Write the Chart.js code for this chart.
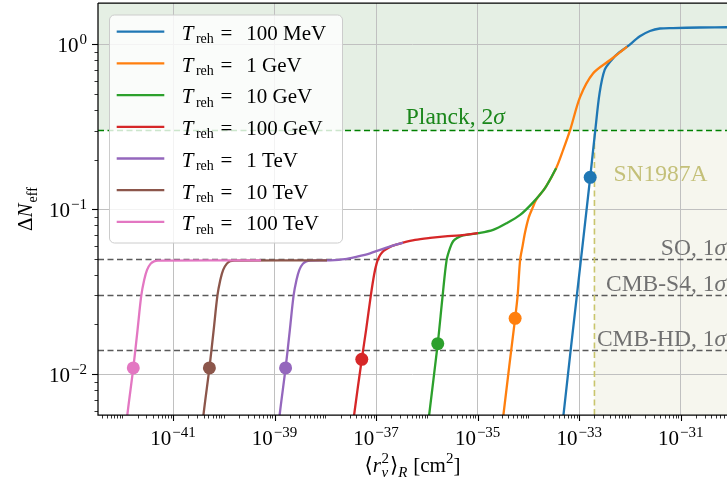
<!DOCTYPE html>
<html>
<head>
<meta charset="utf-8">
<script src="https://cdn.jsdelivr.net/npm/chart.js@4"></script>
<style>
  html, body { margin: 0; padding: 0; background: #fff; }
  canvas { display: block; }
</style>
</head>
<body>
<canvas id="neffChart" width="727" height="488"></canvas>
<script>
"use strict";

/* ── Datos ─────────────────────────────────────────────── */
const legendLabels = ["100 MeV", "1 GeV", "10 GeV", "100 GeV", "1 TeV", "10 TeV", "100 TeV"];
const seriesColors = ["#1f77b4", "#ff7f0e", "#2ca02c", "#d62728", "#9467bd", "#8c564b", "#e377c2"];

const x100MeV = [4.68e-34, 4.91e-34, 9.01e-34, 1.65e-33, 2.07e-33, 2.53e-33, 3.18e-33, 4.41e-33, 6.14e-33, 8.83e-33, 1.57e-32, 2.48e-32, 3.90e-32, 7.03e-32, 2.39e-31, 9.33e-31];
const y100MeV = [0.0045, 0.00565, 0.0299, 0.156, 0.298, 0.507, 0.699, 0.807, 0.892, 0.967, 1.118, 1.204, 1.247, 1.255, 1.264, 1.269];

const x1GeV = [3.05e-35, 3.22e-35, 5.48e-35, 6.14e-35, 6.87e-35, 7.70e-35, 8.55e-35, 1.01e-34, 1.21e-34, 1.42e-34, 2.14e-34, 3.52e-34, 4.84e-34, 6.65e-34, 1.05e-33, 1.89e-33, 4.08e-33, 8.83e-33];
const y1GeV = [0.0045, 0.00565, 0.0218, 0.0299, 0.0491, 0.0599, 0.0718, 0.0886, 0.1018, 0.1140, 0.1346, 0.1772, 0.2288, 0.3024, 0.4815, 0.6673, 0.8029, 0.9671];

const x10GeV = [1.04e-36, 1.11e-36, 1.64e-36, 2.04e-36, 2.45e-36, 2.87e-36, 3.29e-36, 3.94e-36, 5.18e-36, 1.02e-35, 2.02e-35, 3.76e-35, 6.87e-35, 1.24e-34, 2.14e-34, 3.52e-34];
const y10GeV = [0.0045, 0.00565, 0.0153, 0.0296, 0.0491, 0.0582, 0.0639, 0.0670, 0.0694, 0.0715, 0.0749, 0.0823, 0.0923, 0.1100, 0.1346, 0.1772];

const x100GeV = [3.44e-38, 3.69e-38, 5.23e-38, 6.35e-38, 7.87e-38, 9.14e-38, 1.02e-37, 1.15e-37, 1.31e-37, 1.57e-37, 2.07e-37, 3.40e-37, 5.86e-37, 1.16e-36, 2.29e-36, 4.52e-36, 1.02e-35];
const y100GeV = [0.0045, 0.00565, 0.0123, 0.0185, 0.0299, 0.0400, 0.0466, 0.0514, 0.0547, 0.0571, 0.0599, 0.0627, 0.0652, 0.0670, 0.0684, 0.0694, 0.0715];

const x1TeV = [1.19e-39, 1.26e-39, 1.65e-39, 2.00e-39, 2.37e-39, 2.71e-39, 3.08e-39, 3.60e-39, 4.22e-39, 5.06e-39, 1.24e-38, 2.45e-38, 4.23e-38, 7.62e-38, 1.20e-37, 2.07e-37, 3.40e-37];
const y1TeV = [0.0045, 0.00565, 0.01086, 0.0185, 0.0299, 0.0373, 0.0429, 0.0466, 0.0483, 0.0488, 0.0490, 0.0498, 0.0516, 0.0540, 0.0567, 0.0599, 0.0627];

const x10TeV = [3.76e-41, 3.98e-41, 5.21e-41, 6.32e-41, 7.49e-41, 8.56e-41, 9.73e-41, 1.14e-40, 1.33e-40, 1.60e-40, 1.08e-38];
const y10TeV = [0.0045, 0.00565, 0.01086, 0.0185, 0.0299, 0.0373, 0.0429, 0.0466, 0.0483, 0.0488, 0.0490];

const x100TeV = [1.19e-42, 1.26e-42, 1.65e-42, 2.00e-42, 2.37e-42, 2.71e-42, 3.08e-42, 3.60e-42, 4.22e-42, 5.06e-42, 5.42e-40];
const y100TeV = [0.0045, 0.00565, 0.01086, 0.0185, 0.0299, 0.0373, 0.0429, 0.0466, 0.0483, 0.0488, 0.0489];

// puntos marcados sobre cada curva
const dotX = [1.65e-33, 5.48e-35, 1.64e-36, 5.23e-38, 1.65e-39, 5.21e-41, 1.65e-42];
const dotY = [0.156, 0.0218, 0.0153, 0.0123, 0.0109, 0.0109, 0.0109];

// cotas experimentales
const planckLimit = 0.3;
const forecastLevels = [0.05, 0.03, 0.014];
const forecastLabels = ["SO, 1", "CMB-S4, 1", "CMB-HD, 1"];
const sn1987aLimit = 2.0e-33;

// ejes
const xTickValues = [1e-41, 1e-39, 1e-37, 1e-35, 1e-33, 1e-31];
const yTickValues = [1e-2, 1e-1, 1];
const xMin = 3.33e-43, xMax = 8.17e-31;
const yMin = 0.00565, yMax = 1.78;

const curvesX = [x100MeV, x1GeV, x10GeV, x100GeV, x1TeV, x10TeV, x100TeV];
const curvesY = [y100MeV, y1GeV, y10GeV, y100GeV, y1TeV, y10TeV, y100TeV];

/* ── Helpers de texto ──────────────────────────────────── */
const SERIF = '"Liberation Serif", "DejaVu Serif", serif';
const f = (size, italic) => `${italic ? "italic " : ""}${size}px ${SERIF}`;

// trozos: [texto, tamaño, cursiva, desplazamiento vertical, espacio extra]
function pieceWidth(ctx, pieces) {
  let w = 0;
  pieces.forEach((p) => {
    ctx.font = f(p[1], p[2]);
    w += ctx.measureText(p[0]).width + (p[4] || 0);
  });
  return w;
}
function drawPieces(ctx, pieces, x, y) {
  let cx = x;
  pieces.forEach((p) => {
    ctx.font = f(p[1], p[2]);
    ctx.fillText(p[0], cx, y + (p[3] || 0));
    cx += ctx.measureText(p[0]).width + (p[4] || 0);
  });
  return cx;
}
function powPieces(exp) {
  const sup = exp < 0 ? "\u2212" + -exp : String(exp);
  return [["10", 21, false, 0, 1], [sup, 15, false, -8]];
}

/* ── Plugin de decoración ──────────────────────────────── */
const decor = {
  id: "decor",
  beforeDraw(chart) {
    const { ctx, chartArea: a, scales } = chart;
    const yP = scales.y.getPixelForValue(planckLimit);
    const xS = scales.x.getPixelForValue(sn1987aLimit);
    ctx.save();
    ctx.fillStyle = "#e5efe4";
    ctx.fillRect(a.left, a.top, a.right - a.left, yP - a.top);
    ctx.fillStyle = "#f6f6ee";
    ctx.fillRect(xS, yP, a.right - xS, a.bottom - yP);
    ctx.restore();
  },
  beforeDatasetsDraw(chart) {
    const { ctx, chartArea: a, scales } = chart;
    const yP = scales.y.getPixelForValue(planckLimit);
    const xS = scales.x.getPixelForValue(sn1987aLimit);
    ctx.save();
    ctx.setLineDash([6, 3.5]);
    // proyecciones futuras
    ctx.strokeStyle = "#5a5a5a";
    ctx.lineWidth = 1.3;
    forecastLevels.forEach((v) => {
      const y = Math.round(scales.y.getPixelForValue(v)) + 0.5;
      ctx.beginPath();
      ctx.moveTo(a.left, y);
      ctx.lineTo(a.right, y);
      ctx.stroke();
    });
    // SN1987A
    ctx.strokeStyle = "#c9c56c";
    ctx.lineWidth = 1.6;
    ctx.beginPath();
    ctx.moveTo(xS, a.bottom);
    ctx.lineTo(xS, yP);
    ctx.stroke();
    // Planck
    ctx.strokeStyle = "#008000";
    ctx.lineWidth = 1.6;
    ctx.beginPath();
    ctx.moveTo(a.left, yP);
    ctx.lineTo(a.right, yP);
    ctx.stroke();
    ctx.setLineDash([]);

    // etiquetas
    ctx.textBaseline = "alphabetic";
    ctx.fillStyle = "#1a861a";
    drawPieces(ctx, [["Planck, 2", 23.5, false], ["\u03c3", 23.5, true]],
      scales.x.getPixelForValue(3.85e-37), yP - 6.5);
    ctx.fillStyle = "#c4c079";
    drawPieces(ctx, [["SN1987A", 23.5, false]], xS + 19, scales.y.getPixelForValue(0.148));
    ctx.fillStyle = "#707070";
    forecastLevels.forEach((v, i) => {
      const pcs = [[forecastLabels[i], 23.5, false], ["\u03c3", 23.5, true]];
      const w = pieceWidth(ctx, pcs);
      drawPieces(ctx, pcs, a.right - 1 - w, scales.y.getPixelForValue(v) - 4);
    });
    ctx.restore();
  },
  afterDraw(chart) {
    const { ctx, chartArea: a, scales } = chart;
    ctx.save();
    // ejes
    ctx.strokeStyle = "#000";
    ctx.lineWidth = 1.25;
    ctx.beginPath();
    ctx.moveTo(a.left, a.top);
    ctx.lineTo(a.right, a.top);
    ctx.moveTo(a.left, a.top);
    ctx.lineTo(a.left, a.bottom);
    ctx.lineTo(a.right, a.bottom);
    ctx.stroke();

    // marcas menores y mayores
    const xs = scales.x, ys = scales.y;
    for (let e = -43; e <= -31; e++) {
      for (let k = 1; k <= 9; k++) {
        const v = k * Math.pow(10, e);
        if (v < xMin || v > xMax) continue;
        const px = Math.round(xs.getPixelForValue(v)) + 0.5;
        const major = k === 1 && xTickValues.some((t) => Math.abs(Math.log10(t) - e) < 0.01);
        ctx.lineWidth = major ? 1.1 : 0.8;
        ctx.beginPath();
        ctx.moveTo(px, a.bottom);
        ctx.lineTo(px, a.bottom + (major ? 6 : 3.5));
        ctx.stroke();
      }
    }
    for (let e = -3; e <= 0; e++) {
      for (let k = 1; k <= 9; k++) {
        const v = k * Math.pow(10, e);
        if (v < yMin || v > yMax) continue;
        const py = Math.round(ys.getPixelForValue(v)) + 0.5;
        const major = k === 1;
        ctx.lineWidth = major ? 1.1 : 0.8;
        ctx.beginPath();
        ctx.moveTo(a.left, py);
        ctx.lineTo(a.left - (major ? 6 : 3.5), py);
        ctx.stroke();
      }
    }

    // etiquetas de los ejes
    ctx.fillStyle = "#000";
    ctx.textBaseline = "alphabetic";
    xTickValues.forEach((v) => {
      const pcs = powPieces(Math.round(Math.log10(v)));
      const w = pieceWidth(ctx, pcs);
      drawPieces(ctx, pcs, xs.getPixelForValue(v) - w / 2, a.bottom + 30);
    });
    yTickValues.forEach((v) => {
      const pcs = powPieces(Math.round(Math.log10(v)));
      const w = pieceWidth(ctx, pcs);
      drawPieces(ctx, pcs, a.left - 11 - w, ys.getPixelForValue(v) + 7.5);
    });

    // título eje x: <r_nu^2>_R [cm^2]
    const xl = [
      ["\u27e8", 21, false],
      ["r", 21, true, 0, 0.5],
    ];
    const afterR = [
      ["\u27e9", 21, false],
      ["R", 15, true, 5, 6],
      ["[cm", 21, false],
      ["2", 15, false, -9],
      ["]", 21, false],
    ];
    ctx.font = f(15, true);
    const stackW = Math.max(ctx.measureText("\u03bd").width, ctx.measureText("2").width) + 1;
    const totalX = pieceWidth(ctx, xl) + stackW + pieceWidth(ctx, afterR);
    let cx = (a.left + a.right) / 2 - totalX / 2;
    const by = a.bottom + 57;
    cx = drawPieces(ctx, xl, cx, by);
    ctx.font = f(15, false);
    ctx.fillText("2", cx, by - 9);
    ctx.font = f(15, true);
    ctx.fillText("\u03bd", cx, by + 5);
    drawPieces(ctx, afterR, cx + stackW, by);

    // título eje y: Delta N_eff
    const yl = [["\u0394", 21, false], ["N", 21, true, 0, 1], ["eff", 14, false, 5]];
    ctx.translate(31.5, (a.top + a.bottom) / 2);
    ctx.rotate(-Math.PI / 2);
    drawPieces(ctx, yl, -pieceWidth(ctx, yl) / 2, 0);
    ctx.setTransform(1, 0, 0, 1, 0, 0);

    // leyenda
    const lx = 109.5, ly = 15, lw = 233, lh = 228;
    ctx.fillStyle = "rgba(255,255,255,0.8)";
    ctx.strokeStyle = "#cccccc";
    ctx.lineWidth = 1;
    ctx.beginPath();
    ctx.roundRect(lx, ly, lw, lh, 5);
    ctx.fill();
    ctx.stroke();
    legendLabels.forEach((lab, i) => {
      const cy = 31.7 + 31.7 * i;
      ctx.strokeStyle = seriesColors[i];
      ctx.lineWidth = 2.3;
      ctx.beginPath();
      ctx.moveTo(116.7, cy);
      ctx.lineTo(164.3, cy);
      ctx.stroke();
      ctx.fillStyle = "#000";
      ctx.font = f(21, true);
      ctx.fillText("T", 181.7, cy + 8.3);
      const tEnd = 181.7 + ctx.measureText("T").width;
      ctx.font = f(14, false);
      ctx.fillText("reh", tEnd + 2.5, cy + 11.6);
      ctx.font = f(21, false);
      ctx.fillText("=", 220.5, cy + 8.3);
      ctx.fillText(lab, 246.3, cy + 8.3);
    });
    ctx.restore();
  },
};

/* ── Datasets ──────────────────────────────────────────── */
const datasets = [];
legendLabels.forEach((lab, i) => {
  datasets.push({
    label: "T_reh = " + lab,
    data: curvesX[i].map((x, j) => ({ x, y: curvesY[i][j] })),
    showLine: true,
    borderColor: seriesColors[i],
    backgroundColor: seriesColors[i],
    borderWidth: 2.3,
    pointRadius: 0,
    tension: 0.3,
    clip: 0,
    order: 10 - i, // la última serie queda encima
  });
});
legendLabels.forEach((lab, i) => {
  datasets.push({
    label: "dot " + lab,
    data: [{ x: dotX[i], y: dotY[i] }],
    showLine: false,
    pointRadius: 6.5,
    pointBackgroundColor: seriesColors[i],
    pointBorderWidth: 0,
    order: 0,
  });
});

new Chart(document.getElementById("neffChart"), {
  type: "scatter",
  data: { datasets },
  options: {
    responsive: false,
    animation: false,
    events: [],
    layout: { autoPadding: false, padding: { top: 3, right: 0, left: 0, bottom: 0 } },
    plugins: { legend: { display: false }, tooltip: { enabled: false } },
    scales: {
      x: {
        type: "logarithmic",
        min: xMin,
        max: xMax,
        afterBuildTicks: (s) => {
          s.ticks = xTickValues.map((v) => ({ value: v, major: true }));
        },
        afterFit: (s) => { s.height = 73; },
        ticks: { display: false },
        grid: { color: "#c0c0c0", lineWidth: 1, drawTicks: false },
        border: { display: false },
      },
      y: {
        type: "logarithmic",
        min: yMin,
        max: yMax,
        afterBuildTicks: (s) => {
          s.ticks = yTickValues.map((v) => ({ value: v, major: true }));
        },
        afterFit: (s) => { s.width = 98; },
        ticks: { display: false },
        grid: { color: "#c0c0c0", lineWidth: 1, drawTicks: false },
        border: { display: false },
      },
    },
  },
  plugins: [decor],
});
</script>
</body>
</html>
